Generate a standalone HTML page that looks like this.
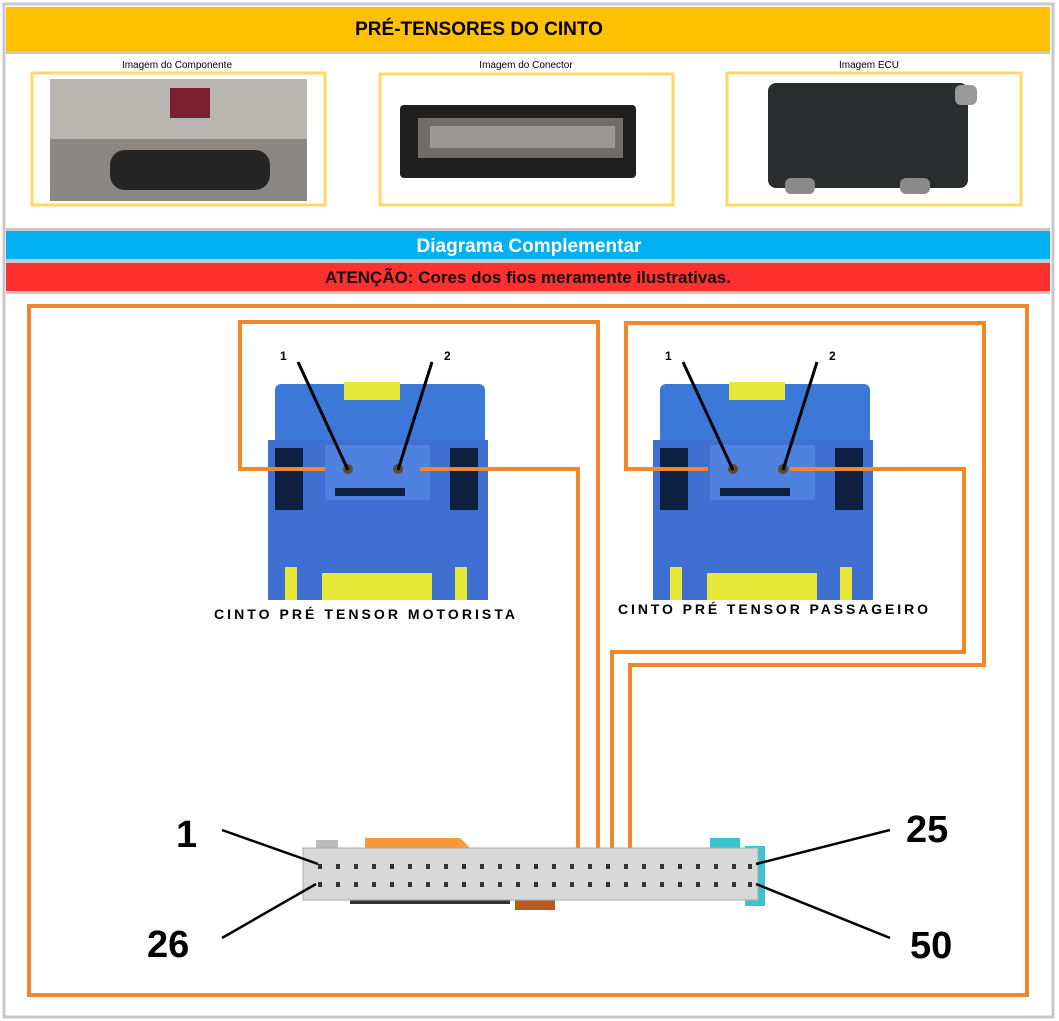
<!DOCTYPE html>
<html><head><meta charset="utf-8"><style>
html,body{margin:0;padding:0;background:#fff;}
svg{display:block;font-family:"Liberation Sans",sans-serif;}
</style></head><body>
<svg width="1059" height="1021" viewBox="0 0 1059 1021" xmlns="http://www.w3.org/2000/svg">
<rect x="0" y="0" width="1059" height="1021" fill="#fff"/>
<rect x="4" y="4" width="1049" height="1013" fill="#fff" stroke="#c8c8c8" stroke-width="3"/>
<rect x="6" y="7" width="1044" height="44" fill="#ffc000"/>
<text x="479" y="35" font-size="19" font-weight="bold" text-anchor="middle">PRÉ-TENSORES DO CINTO</text>
<rect x="6" y="51" width="1044" height="3" fill="#c8c8c8"/>
<text x="177" y="68" font-size="10" text-anchor="middle">Imagem do Componente</text>
<text x="526" y="68" font-size="10" text-anchor="middle">Imagem do Conector</text>
<text x="869" y="68" font-size="10" text-anchor="middle">Imagem ECU</text>
<rect x="32" y="73" width="293" height="132" fill="#fff" stroke="#ffd966" stroke-width="3"/>
<rect x="50" y="79" width="257" height="122" fill="#8a8784"/>
<rect x="50" y="79" width="257" height="60" fill="#b9b6b2"/>
<rect x="170" y="88" width="40" height="30" fill="#7a2030"/>
<rect x="110" y="150" width="160" height="40" rx="15" fill="#252525"/>
<rect x="380" y="74" width="293" height="131" fill="#fff" stroke="#ffd966" stroke-width="3"/>
<rect x="400" y="105" width="236" height="73" rx="4" fill="#1e1e1e"/>
<rect x="418" y="118" width="205" height="40" fill="#6f6c6a"/>
<rect x="430" y="126" width="185" height="22" fill="#9a9794"/>
<rect x="727" y="73" width="294" height="132" fill="#fff" stroke="#ffd966" stroke-width="3"/>
<rect x="768" y="83" width="200" height="105" rx="8" fill="#2b2c2e"/>
<rect x="955" y="85" width="22" height="20" rx="6" fill="#9a9a9a"/>
<rect x="785" y="178" width="30" height="16" rx="6" fill="#8a8a8a"/>
<rect x="900" y="178" width="30" height="16" rx="6" fill="#8a8a8a"/>
<rect x="6" y="228" width="1044" height="3" fill="#c8c8c8"/>
<rect x="6" y="231" width="1044" height="28" fill="#00b0f0"/>
<text x="529" y="252" font-size="19" font-weight="bold" fill="#fff" text-anchor="middle">Diagrama Complementar</text>
<rect x="6" y="259" width="1044" height="4" fill="#c8c8c8"/>
<rect x="6" y="263" width="1044" height="28" fill="#ff3030"/>
<text x="528" y="283" font-size="17" font-weight="bold" fill="#111" text-anchor="middle">ATENÇÃO: Cores dos fios meramente ilustrativas.</text>
<rect x="6" y="291" width="1044" height="3" fill="#c8c8c8"/>
<rect x="29" y="306" width="998" height="689" fill="none" stroke="#f4862a" stroke-width="4"/>
<g id="bc">
<rect x="275" y="384" width="210" height="60" rx="6" fill="#3c78d8"/>
<rect x="268" y="440" width="220" height="160" fill="#3f6fd0"/>
<rect x="344" y="382" width="56" height="18" fill="#e8e83a"/>
<rect x="275" y="448" width="28" height="62" fill="#0e2040"/>
<rect x="450" y="448" width="28" height="62" fill="#0e2040"/>
<rect x="325" y="445" width="105" height="55" fill="#4f82e0"/>
<rect x="335" y="488" width="70" height="8" fill="#0e2040"/>
<rect x="285" y="567" width="12" height="33" fill="#e8e83a"/>
<rect x="455" y="567" width="12" height="33" fill="#e8e83a"/>
<rect x="322" y="573" width="110" height="27" fill="#e8e83a"/>
<circle cx="348" cy="469" r="5" fill="#5a4a30"/>
<circle cx="398" cy="469" r="5" fill="#5a4a30"/>
</g>
<use href="#bc" x="385" y="0"/>
<g fill="none" stroke="#f4862a" stroke-width="4">
<polyline points="325,469 240,469 240,322 598,322 598,862"/>
<polyline points="420,469 578,469 578,862"/>
<polyline points="708,469 626,469 626,323 984,323 984,665 630,665 630,862"/>
<polyline points="790,469 964,469 964,652 612,652 612,862"/>
</g>
<g stroke="#000" stroke-width="3">
<line x1="298" y1="362" x2="348" y2="470"/>
<line x1="432" y1="362" x2="398" y2="470"/>
<line x1="683" y1="362" x2="733" y2="470"/>
<line x1="817" y1="362" x2="783" y2="470"/>
</g>
<g font-size="12" font-weight="bold">
<text x="280" y="360">1</text><text x="444" y="360">2</text>
<text x="665" y="360">1</text><text x="829" y="360">2</text>
</g>
<text x="214" y="619" font-size="14" font-weight="bold" textLength="301" lengthAdjust="spacing">CINTO PRÉ TENSOR MOTORISTA</text>
<text x="618" y="614" font-size="14" font-weight="bold" textLength="310" lengthAdjust="spacing">CINTO PRÉ TENSOR PASSAGEIRO</text>
<rect x="316" y="840" width="22" height="12" fill="#bbb"/>
<path d="M365 838 L460 838 L470 848 L550 848 L550 860 L365 860 Z" fill="#f59a3a"/>
<rect x="710" y="838" width="30" height="14" fill="#3cc3d0"/>
<rect x="745" y="846" width="20" height="60" fill="#3cc3d0"/>
<rect x="515" y="898" width="40" height="12" fill="#b85a20"/>
<rect x="350" y="898" width="160" height="6" fill="#333"/>
<rect x="303" y="848" width="455" height="52" fill="#d8d8d8" stroke="#aaa"/>
<g fill="#333">
<g id="row">
<rect x="318" y="864" width="4" height="5"/><rect x="336" y="864" width="4" height="5"/><rect x="354" y="864" width="4" height="5"/><rect x="372" y="864" width="4" height="5"/><rect x="390" y="864" width="4" height="5"/><rect x="408" y="864" width="4" height="5"/><rect x="426" y="864" width="4" height="5"/><rect x="444" y="864" width="4" height="5"/><rect x="462" y="864" width="4" height="5"/><rect x="480" y="864" width="4" height="5"/><rect x="498" y="864" width="4" height="5"/><rect x="516" y="864" width="4" height="5"/><rect x="534" y="864" width="4" height="5"/><rect x="552" y="864" width="4" height="5"/><rect x="570" y="864" width="4" height="5"/><rect x="588" y="864" width="4" height="5"/><rect x="606" y="864" width="4" height="5"/><rect x="624" y="864" width="4" height="5"/><rect x="642" y="864" width="4" height="5"/><rect x="660" y="864" width="4" height="5"/><rect x="678" y="864" width="4" height="5"/><rect x="696" y="864" width="4" height="5"/><rect x="714" y="864" width="4" height="5"/><rect x="732" y="864" width="4" height="5"/><rect x="748" y="864" width="4" height="5"/>
</g>
<use href="#row" y="18"/>
</g>
<g stroke="#000" stroke-width="2.5">
<line x1="222" y1="830" x2="318" y2="864"/>
<line x1="222" y1="938" x2="316" y2="884"/>
<line x1="890" y1="830" x2="756" y2="864"/>
<line x1="890" y1="938" x2="756" y2="884"/>
</g>
<g font-size="38" font-weight="bold">
<text x="176" y="847">1</text>
<text x="906" y="842">25</text>
<text x="147" y="957">26</text>
<text x="910" y="958">50</text>
</g>
</svg>
</body></html>
